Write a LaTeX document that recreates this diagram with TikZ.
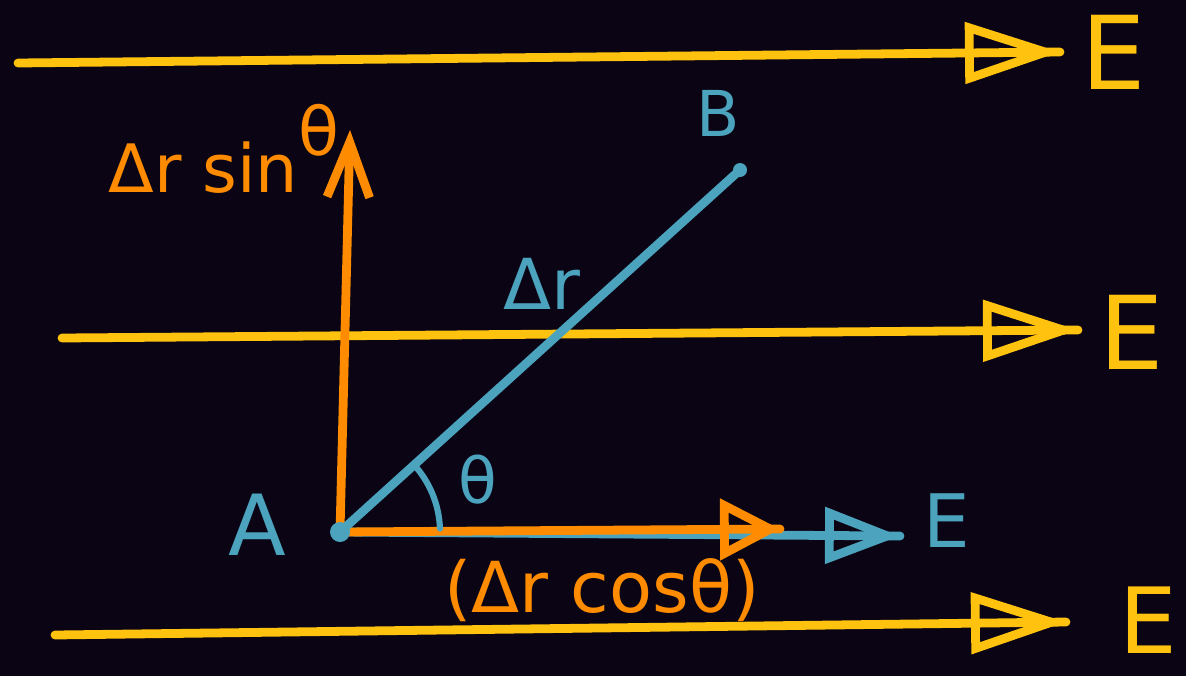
\documentclass[tikz,border=0pt]{standalone}
\usepackage{fontspec}
\setmainfont{DejaVu Sans}
\usetikzlibrary{arrows.meta,decorations.markings}
\definecolor{board}{RGB}{10,4,20}
\definecolor{fieldyel}{RGB}{255,194,14}
\definecolor{comporange}{RGB}{255,140,0}
\definecolor{dispblue}{RGB}{75,163,190}
\tikzset{
  ink/.style={line width=5pt, line cap=round, line join=round},
  tipline/.style n args={3}{ink, draw=#1, postaction={decorate},
    decoration={markings, mark=at position 1 with
      {\arrow[#1, line width=5pt]{Triangle[open, length=#2, width=#3]}}}},
  hand/.style={font=\fontsize{#1}{#1}\selectfont, inner sep=0pt},
}

\begin{document}
\begin{tikzpicture}[x=0.02cm, y=-0.02cm]
    \path[use as bounding box, fill=board] (0,0) rectangle (1186,676);

    \coordinate (L1s) at (18,63);
    \coordinate (L1e) at (1060,52);
    \coordinate (L2s) at (62,338);
    \coordinate (L2e) at (1078,330);
    \coordinate (L3s) at (55,635);
    \coordinate (L3e) at (1066,622);

    \draw[tipline={fieldyel}{1.9cm}{1.2cm}] (L1s) -- (L1e);
    \draw[tipline={fieldyel}{1.9cm}{1.2cm}] (L2s) -- (L2e);
    \draw[tipline={fieldyel}{1.9cm}{1.2cm}] (L3s) -- (L3e);
    \node[hand=58, text=fieldyel] (E1) at (1114,52) {E};
    \node[hand=58, text=fieldyel] (E2) at (1132,332) {E};
    \node[hand=52, text=fieldyel] (E3) at (1148,620) {E};

    \coordinate (A) at (340,532);
    \coordinate (B) at (740,170);
    \coordinate (Xb) at (900,536);
    \coordinate (Xo) at (780,529);
    \coordinate (Yo) at (350,130);

    \draw[tipline={dispblue}{1.5cm}{1.1cm}] (A) -- (Xb);
    \draw[tipline={comporange}{1.2cm}{1.2cm}] (A) -- (Xo);
    \draw[ink, comporange, -{Straight Barb[length=1.1cm, width=0.85cm]}] (A) -- (Yo);
    \draw[ink, dispblue] (A) -- (B);
    \fill[dispblue] (A) circle (0.2cm);
    \fill[dispblue] (B) circle (0.14cm);
    \draw[ink, dispblue, line width=3.5pt] (A) ++(-2:100) arc[start angle=-2, end angle=-40, radius=100];

    \node[hand=48, text=dispblue] (Alab) at (257,525) {A};
    \node[hand=36, text=dispblue] (Blab) at (718,113) {B};
    \node[hand=40, text=dispblue] (drlab) at (542,284) {Δr};
    \node[hand=36, text=dispblue] (thlab) at (478,480) {θ};
    \node[hand=42, text=dispblue] (E4) at (947,521) {E};

    \node[hand=38, text=comporange, anchor=base west] (rsin) at (108,192) {Δr sin\raisebox{0.55em}{θ}};
    \node[hand=40, text=comporange] (rcos) at (602,590) {(Δr cosθ)};
\end{tikzpicture}
\end{document}
